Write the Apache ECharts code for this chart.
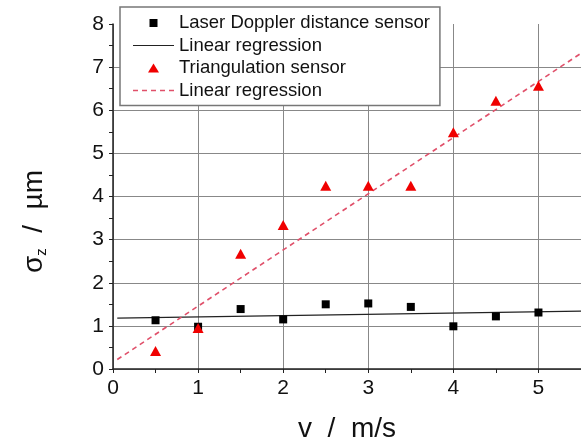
<!DOCTYPE html>
<html>
<head>
<meta charset="utf-8">
<script src="https://cdn.jsdelivr.net/npm/echarts@6/dist/echarts.min.js"></script>
<style>
  html, body { margin: 0; padding: 0; background: #fff; }
  #main { width: 581px; height: 442px; }
</style>
</head>
<body>
<div id="main"></div>
<script>
var speeds = [0.5, 1, 1.5, 2, 2.5, 3, 3.5, 4, 4.5, 5];
var laserDoppler = [1.13, 0.98, 1.39, 1.15, 1.5, 1.52, 1.44, 0.99, 1.22, 1.31];
var triangulation = [0.42, 0.95, 2.67, 3.34, 4.25, 4.25, 4.25, 5.49, 6.22, 6.57];
// regression line end points [v, sigma]
var laserFit = [[0.05, 1.18], [5.5, 1.34]];
var triangFit = [[0.05, 0.22], [5.5, 7.32]];

function pairs(xs, ys) {
  return xs.map(function (x, i) { return [x, ys[i]]; });
}

// legend icons drawn in a 41x10 box (corner points keep the box size)
var box = 'path://M0,0L0,0M41,10L41,10';
var squareIcon = box + 'M16.5,1L24.5,1L24.5,9L16.5,9Z';
var triangleIcon = box + 'M20.5,0.5L26,9.5L15,9.5Z';
var solidIcon = box + 'M0,4.4L41,4.4L41,5.6L0,5.6Z';
var dashedIcon = box + 'M0,4.3L5,4.3L5,5.7L0,5.7Z M9,4.3L14,4.3L14,5.7L9,5.7Z M18,4.3L23,4.3L23,5.7L18,5.7Z M27,4.3L32,4.3L32,5.7L27,5.7Z M36,4.3L41,4.3L41,5.7L36,5.7Z';

var font = 'Liberation Sans, Arial, sans-serif';
var myChart = echarts.init(document.getElementById('main'));

var option = {
  animation: false,
  grid: { left: 113, right: 0, top: 24, bottom: 73, outerBoundsMode: 'none' },
  legend: {
    orient: 'vertical',
    left: 120,
    top: 7,
    padding: [6, 10, 5, 13],
    itemGap: 2.5,
    itemWidth: 41,
    itemHeight: 10,
    borderColor: '#777',
    borderWidth: 1.5,
    backgroundColor: '#fff',
    textStyle: { fontFamily: font, fontSize: 18.5, color: '#111', lineHeight: 20 },
    data: [
      { name: 'Laser Doppler distance sensor', icon: squareIcon },
      { name: 'Linear regression', icon: solidIcon },
      { name: 'Triangulation sensor', icon: triangleIcon },
      { name: 'Linear regression ', icon: dashedIcon }
    ]
  },
  xAxis: {
    type: 'value',
    min: 0,
    max: 5.5,
    interval: 0.5,
    name: 'v  /  m/s',
    nameLocation: 'middle',
    nameGap: 46,
    nameTextStyle: { fontFamily: font, fontSize: 28, color: '#111' },
    axisLine: { lineStyle: { color: '#222', width: 1.5 } },
    axisTick: { length: 4, lineStyle: { color: '#222' } },
    axisLabel: {
      margin: 9,
      fontFamily: font, fontSize: 21, color: '#111',
      showMaxLabel: false,
      formatter: function (v) { return v % 1 === 0 ? String(v) : ''; }
    },
    splitLine: { show: true, lineStyle: { color: ['#888', 'rgba(0,0,0,0)'], width: 1 } }
  },
  yAxis: {
    type: 'value',
    min: 0,
    max: 8,
    interval: 0.5,
    name: 'σ{sub|z}  /  µm',
    nameLocation: 'middle',
    nameGap: 64,
    nameTextStyle: {
      fontFamily: font, fontSize: 28, color: '#111',
      padding: [0, 50, 0, 0],
      rich: { sub: { fontFamily: font, fontSize: 15, color: '#111', verticalAlign: 'bottom', padding: [14, 0, 0, 0] } }
    },
    axisLine: { show: true, lineStyle: { color: '#222', width: 1.5 } },
    axisTick: { show: true, length: 4, lineStyle: { color: '#222' } },
    axisLabel: {
      margin: 9, fontFamily: font, fontSize: 21, color: '#111',
      formatter: function (v) { return v % 1 === 0 ? String(v) : ''; }
    },
    splitLine: { show: true, showMaxLine: false, lineStyle: { color: ['#888', 'rgba(0,0,0,0)'], width: 1 } }
  },
  series: [
    {
      name: 'Linear regression',
      type: 'line',
      data: laserFit,
      symbol: 'none',
      lineStyle: { color: '#222', width: 1.2 },
      itemStyle: { color: '#222' },
      z: 2
    },
    {
      name: 'Linear regression ',
      type: 'line',
      data: triangFit,
      symbol: 'none',
      lineStyle: { color: '#e0506a', width: 1.6, type: [5, 4] },
      itemStyle: { color: '#e0506a' },
      z: 2
    },
    {
      name: 'Laser Doppler distance sensor',
      type: 'scatter',
      data: pairs(speeds, laserDoppler),
      symbol: 'rect',
      symbolSize: 8,
      itemStyle: { color: '#000', opacity: 1 },
      z: 3
    },
    {
      name: 'Triangulation sensor',
      type: 'scatter',
      data: pairs(speeds, triangulation),
      symbol: 'triangle',
      symbolSize: [11, 10],
      itemStyle: { color: '#f00000', opacity: 1 },
      z: 3
    }
  ]
};

myChart.setOption(option);
</script>
</body>
</html>
